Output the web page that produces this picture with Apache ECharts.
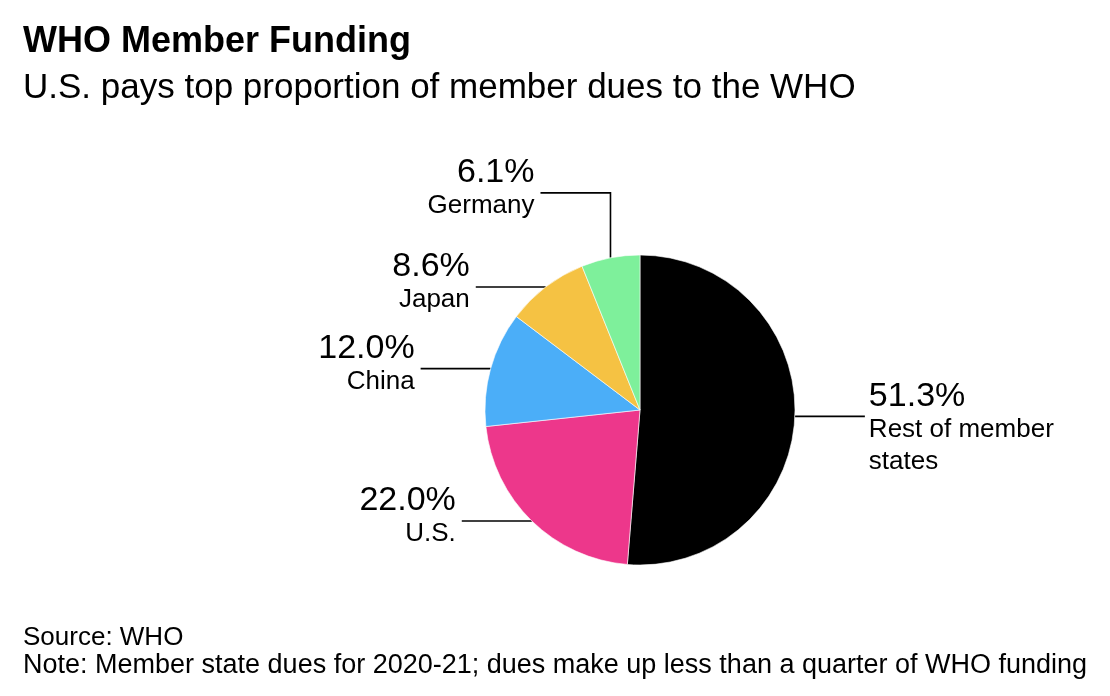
<!DOCTYPE html>
<html>
<head>
<meta charset="utf-8">
<script src="https://cdn.jsdelivr.net/npm/echarts@6/dist/echarts.min.js"></script>
<style>
html,body{margin:0;padding:0;background:#fff;}
#chart{width:1110px;height:696px;}
</style>
</head>
<body>
<div id="chart"></div>
<script>
const categories = ['Rest of member states', 'U.S.', 'China', 'Japan', 'Germany'];
const labelLines = [['Rest of member', 'states'], ['U.S.'], ['China'], ['Japan'], ['Germany']];
const values = [51.3, 22.0, 12.0, 8.6, 6.1];
const colors = ['#000000', '#ED378B', '#4BAEF8', '#F5C243', '#7EF09B'];

const titleText = 'WHO Member Funding';
const subtitleText = 'U.S. pays top proportion of member dues to the WHO';
const sourceText = 'Source: WHO';
const noteText = 'Note: Member state dues for 2020-21; dues make up less than a quarter of WHO funding';

const FONT = '"Liberation Sans", Arial, Helvetica, sans-serif';
const chart = echarts.init(document.getElementById('chart'), null, {renderer: 'canvas'});

const data = categories.map((c, i) => ({
  name: c,
  value: values[i],
  itemStyle: {color: colors[i]}
}));

const LINE_LEN = 70;
const RISE = 65;

chart.setOption({
  animation: false,
  backgroundColor: '#ffffff',
  title: [
    {text: titleText, left: 18, top: 19, textStyle: {fontFamily: FONT, fontSize: 36, fontWeight: 'bold', color: '#000'}},
    {text: subtitleText, left: 18, top: 66, textStyle: {fontFamily: FONT, fontSize: 35, fontWeight: 'normal', color: '#000'}},
    {text: sourceText, left: 18, top: 620, textStyle: {fontFamily: FONT, fontSize: 26, fontWeight: 'normal', color: '#000'}},
    {text: noteText, left: 18, top: 647, textStyle: {fontFamily: FONT, fontSize: 27, fontWeight: 'normal', color: '#000'}}
  ],
  series: [{
    type: 'pie',
    center: [640, 410],
    radius: 155,
    startAngle: 90,
    clockwise: true,
    avoidLabelOverlap: false,
    itemStyle: {borderColor: '#ffffff', borderWidth: 0.6},
    emphasis: {disabled: true},
    data: data,
    label: {
      show: true,
      position: 'outside',
      fontFamily: FONT,
      color: '#000',
      formatter: function (p) {
        const names = labelLines[p.dataIndex].map(s => '{n|' + s + '}').join('\n');
        return '{p|' + values[p.dataIndex].toFixed(1) + '%}\n' + names;
      },
      rich: {
        p: {fontFamily: FONT, fontSize: 34, lineHeight: 34, color: '#000'},
        n: {fontFamily: FONT, fontSize: 26, lineHeight: 32, color: '#000'}
      }
    },
    labelLine: {
      show: true,
      length: 0,
      length2: LINE_LEN,
      smooth: false,
      lineStyle: {color: '#000', width: 1.6}
    },
    labelLayout: function (params) {
      const p0 = params.labelLinePoints[0];
      const i = params.dataIndex;
      let pts, endX, endY, right;
      if (i === categories.length - 1) {
        const p1 = [p0[0], p0[1] - RISE];
        const p2 = [p0[0] - LINE_LEN, p0[1] - RISE];
        pts = [p0, p1, p2];
        endX = p2[0]; endY = p2[1]; right = false;
      } else {
        const isRight = params.labelLinePoints[2][0] > p0[0];
        const p2 = [p0[0] + (isRight ? LINE_LEN : -LINE_LEN), p0[1]];
        pts = [p0, p0, p2];
        endX = p2[0]; endY = p2[1]; right = isRight;
      }
      return {
        x: right ? endX + 4 : endX - 6,
        y: endY - 37,
        align: right ? 'left' : 'right',
        verticalAlign: 'top',
        labelLinePoints: pts
      };
    }
  }]
});
</script>
</body>
</html>
